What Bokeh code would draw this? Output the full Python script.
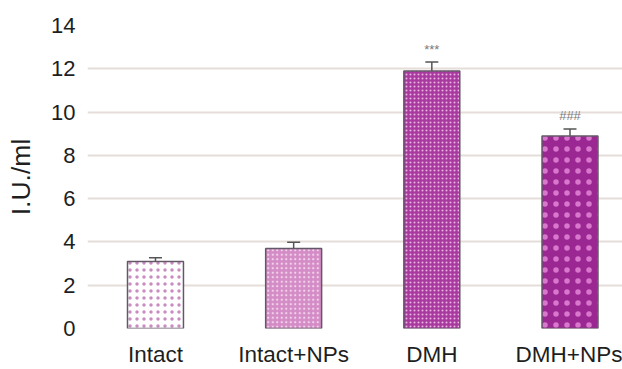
from bokeh.plotting import figure
from bokeh.models import ColumnDataSource, Whisker, TeeHead, FixedTicker, Range1d
from bokeh.core.properties import value
from bokeh.embed import file_html
from bokeh.resources import INLINE

groups = ["Intact", "Intact+NPs", "DMH", "DMH+NPs"]
means = [3.1, 3.7, 11.9, 8.9]
errors = [0.17, 0.28, 0.41, 0.32]
marks = ["", "", "***", "###"]
y_ticks = [0, 2, 4, 6, 8, 10, 12, 14]

fills = ["#ffffff", "#d48cc6", "#a8399f", "#9a2792"]
hatch_colors = ["#c98cc0", "#f3d3ec", "#eab5e3", "#d877cc"]
hatch_scales = [7, 4.5, 4, 11]
hatch_weights = [2, 2, 2, 1.2]

xs = list(range(len(groups)))
src = ColumnDataSource(dict(
    x=xs, top=means, upper=[m + e for m, e in zip(means, errors)],
    fill=fills, hc=hatch_colors, hs=hatch_scales, hw=hatch_weights, mark=marks,
))

FONT = "Liberation Sans"

p = figure(width=622, height=369, output_backend="svg", toolbar_location=None,
           x_range=Range1d(-0.492, 3.38), y_range=Range1d(0, 14),
           min_border_left=87, min_border_right=0, min_border_top=25,
           min_border_bottom=40)
p.outline_line_color = None
p.background_fill_color = "white"

p.vbar(x="x", top="top", width=0.405, bottom=0, source=src,
       fill_color="fill", line_color="#645868", line_width=1.5,
       hatch_pattern="dot", hatch_color="hc", hatch_scale="hs", hatch_weight="hw")

w = Whisker(base="x", upper="upper", lower="top", source=src,
            line_color="#555555", line_width=1.5, lower_head=None,
            upper_head=TeeHead(size=13, line_color="#555555", line_width=1.5))
p.add_layout(w)

p.text(x="x", y="upper", text="mark", source=src, text_align="center",
       text_baseline="middle", y_offset=-13, text_font_size="13px",
       text_color="#7a7a7a", text_font=value(FONT))

p.xaxis.ticker = FixedTicker(ticks=xs)
p.xaxis.major_label_overrides = {i: g for i, g in enumerate(groups)}
p.yaxis.ticker = FixedTicker(ticks=y_ticks)
p.yaxis.axis_label = "I.U./ml"

for ax in (p.xaxis, p.yaxis):
    ax.axis_line_color = None
    ax.major_tick_line_color = None
    ax.minor_tick_line_color = None
    ax.major_tick_out = 0
    ax.major_tick_in = 0
    ax.major_label_text_font = FONT
    ax.major_label_text_color = "#1e1e1e"

p.xaxis.major_label_text_font_size = "22.5px"
p.xaxis.major_label_standoff = 13
p.yaxis.major_label_text_font_size = "22px"
p.yaxis.major_label_standoff = 12
p.yaxis.axis_label_text_font = FONT
p.yaxis.axis_label_text_font_size = "26.5px"
p.yaxis.axis_label_text_font_style = "normal"
p.yaxis.axis_label_text_color = "#1e1e1e"
p.yaxis.axis_label_standoff = 12

p.xgrid.grid_line_color = None
p.ygrid.grid_line_color = "#e4ddd9"
p.ygrid.grid_line_width = 2

open("out.html", "w").write(file_html(p, INLINE))
